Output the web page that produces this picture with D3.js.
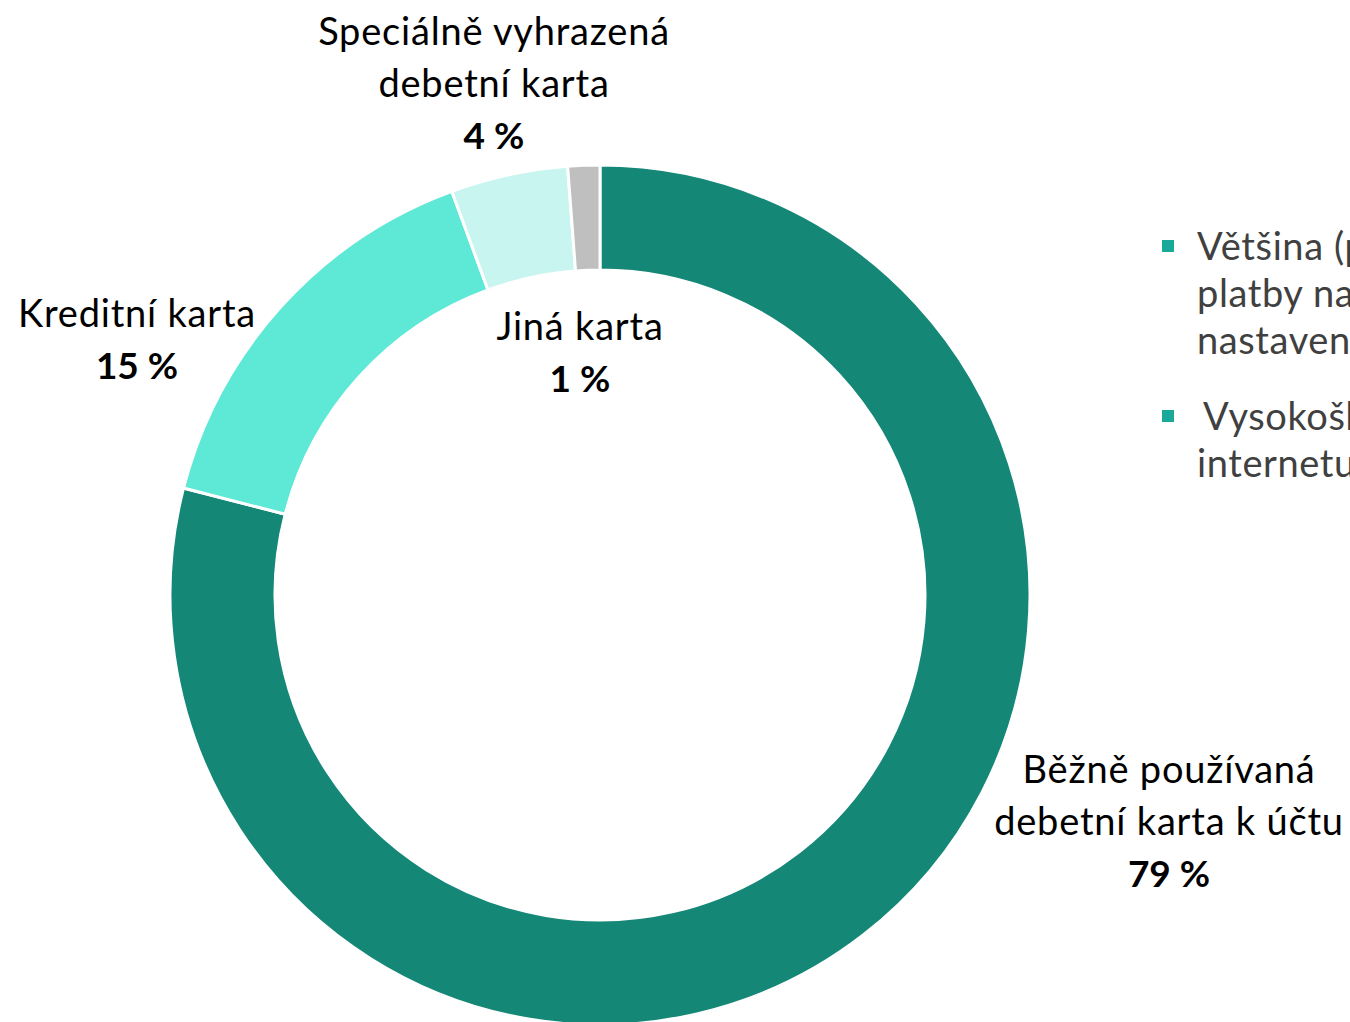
<html>
<head>
<meta charset="utf-8">
<script src="https://d3js.org/d3.v7.min.js"></script>
<style>
  body { margin: 0; background: #fff; overflow: hidden; }
  svg text { font-family: Lato, "Open Sans", sans-serif; }
</style>
</head>
<body>
<svg id="chart" width="1350" height="1022"></svg>
<script>
// data
const categories = ["Běžně používaná debetní karta k účtu", "Kreditní karta", "Speciálně vyhrazená debetní karta", "Jiná karta"];
const values = [79.0, 15.4, 4.4, 1.2];
const shownPct = ["79", "15", "4", "1"];
const labelLines = [["Běžně používaná", "debetní karta k účtu"], ["Kreditní karta"], ["Speciálně vyhrazená", "debetní karta"], ["Jiná karta"]];
const colors = ["#158777", "#5ee8d6", "#c8f5f0", "#bfbfbf"];
const legendItems = [
  ["Většina (přibližně dvě třetiny) omezuje", "platby na internetu pomocí", "nastavenými limity"],
  ["Vysokoškoláci častěji používají pro platby na", "internetu speciální kartu"]
];

// label anchor points (px)
const labelPos = [[1169, 783], [137, 327], [494, 45], [580, 340]];

const svg = d3.select("#chart");
const cx = 600, cy = 595, rOuter = 430, rInner = 325;

const pie = d3.pie().sort(null).value(d => d);
const arc = d3.arc().innerRadius(rInner).outerRadius(rOuter);

// donut
svg.append("g")
  .attr("transform", "translate(" + cx + "," + cy + ")")
  .selectAll("path")
  .data(pie(values))
  .enter().append("path")
  .attr("d", arc)
  .attr("fill", (d, i) => colors[i])
  .attr("stroke", "#fff")
  .attr("stroke-width", 3);

// labels
labelLines.forEach(function(lines, i) {
  const g = svg.append("g").attr("transform", "translate(" + labelPos[i][0] + "," + labelPos[i][1] + ")");
  lines.forEach(function(t, j) {
    g.append("text")
      .attr("y", j * 52)
      .attr("text-anchor", "middle")
      .attr("font-size", 38)
      .attr("letter-spacing", 0.8)
      .attr("fill", "#000")
      .text(t);
  });
  g.append("text")
    .attr("y", lines.length * 52)
    .attr("text-anchor", "middle")
    .attr("font-size", 37)
    .attr("font-weight", "bold")
    .attr("fill", "#000")
    .text(shownPct[i] + " %");
});

// legend (cut off at right edge, as in the original)
let ly = 260;
legendItems.forEach(function(lines) {
  svg.append("rect")
    .attr("x", 1162).attr("y", ly - 20)
    .attr("width", 12).attr("height", 12)
    .attr("fill", "#1aa898");
  lines.forEach(function(t, j) {
    svg.append("text")
      .attr("x", j === 0 && ly > 300 ? 1203 : 1197)
      .attr("y", ly + j * 47)
      .attr("font-size", 38)
      .attr("letter-spacing", 0.6)
      .attr("fill", "#404040")
      .text(t);
  });
  ly += lines.length * 47 + 29;
});
</script>
</body>
</html>
